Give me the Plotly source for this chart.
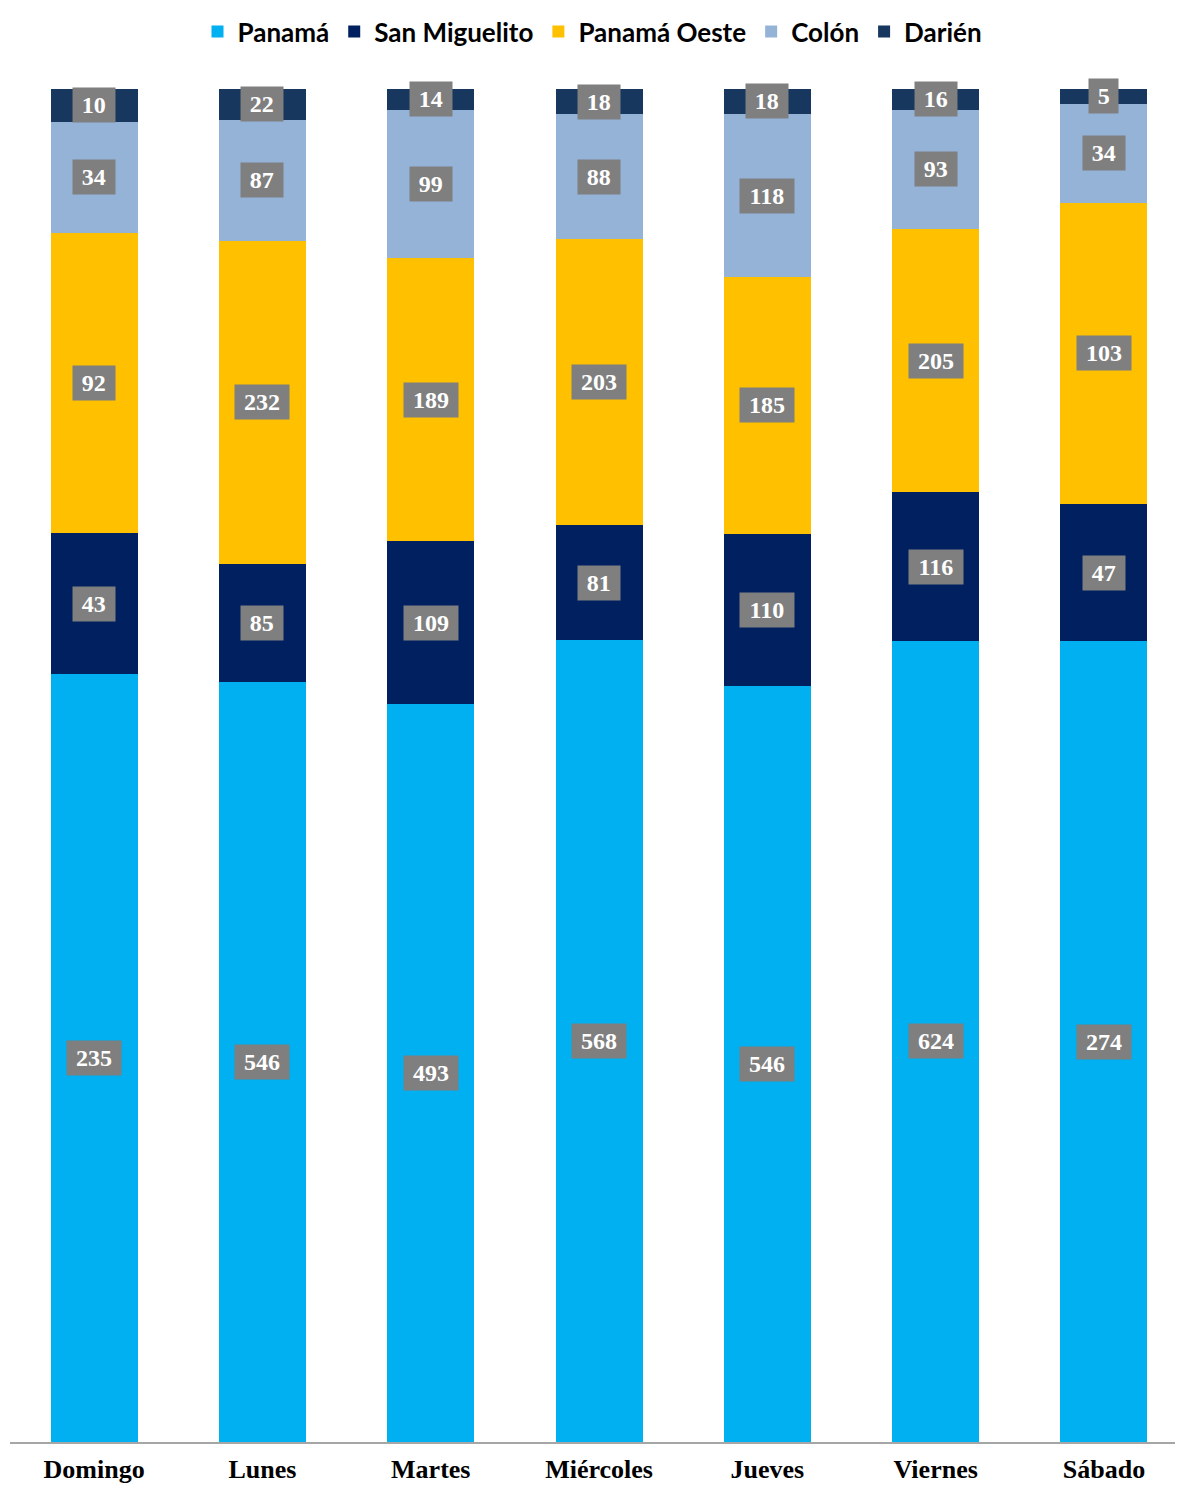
import plotly.graph_objects as go

days = ["Domingo", "Lunes", "Martes", "Miércoles", "Jueves", "Viernes", "Sábado"]
panama = [235, 546, 493, 568, 546, 624, 274]
san_miguelito = [43, 85, 109, 81, 110, 116, 47]
panama_oeste = [92, 232, 189, 203, 185, 205, 103]
colon = [34, 87, 99, 88, 118, 93, 34]
darien = [10, 22, 14, 18, 18, 16, 5]

series = [
    ("Panamá", panama, "#00B0F0"),
    ("San Miguelito", san_miguelito, "#002060"),
    ("Panamá Oeste", panama_oeste, "#FFC000"),
    ("Colón", colon, "#95B3D7"),
    ("Darién", darien, "#17375E"),
]

fig = go.Figure()
for name, vals, col in series:
    fig.add_trace(go.Bar(x=days, y=vals, name=name, marker=dict(color=col, line=dict(width=0)),
                         width=0.517))

totals = [sum(s[1][i] for s in series) for i in range(len(days))]
annotations = []
for i, d in enumerate(days):
    cum = 0.0
    for name, vals, col in series:
        pct = vals[i] / totals[i] * 100
        txt = str(vals[i])
        annotations.append(dict(
            x=d, y=cum + pct / 2, xref="x", yref="y", text=f"<b>{txt}</b>",
            showarrow=False, bgcolor="#7F7F7F", borderpad=0,
            width=12.3 * len(txt) + 17, height=34,
            font=dict(family="Liberation Serif", size=24, color="white"),
        ))
        cum += pct

fig.update_layout(
    barmode="stack", barnorm="percent",
    width=1167, height=1475,
    margin=dict(l=2, r=0, t=81, b=41, autoexpand=False),
    plot_bgcolor="white", paper_bgcolor="white",
    annotations=annotations,
    legend=dict(orientation="h", x=0.5, xanchor="center", y=1.0598, yanchor="top",
                font=dict(family="Lato", size=26, color="black", weight="bold"),
                itemwidth=30, traceorder="normal"),
    xaxis=dict(range=[-0.5, 6.422], showline=True, linecolor="#A6A6A6", linewidth=2,
               ticks="", tickfont=dict(family="Liberation Serif", size=26, color="black", weight="bold"),
               ticklabelstandoff=3),
    yaxis=dict(range=[0, 100], visible=False, showgrid=False),
    bargap=0,
)
fig.write_html("out.html")
